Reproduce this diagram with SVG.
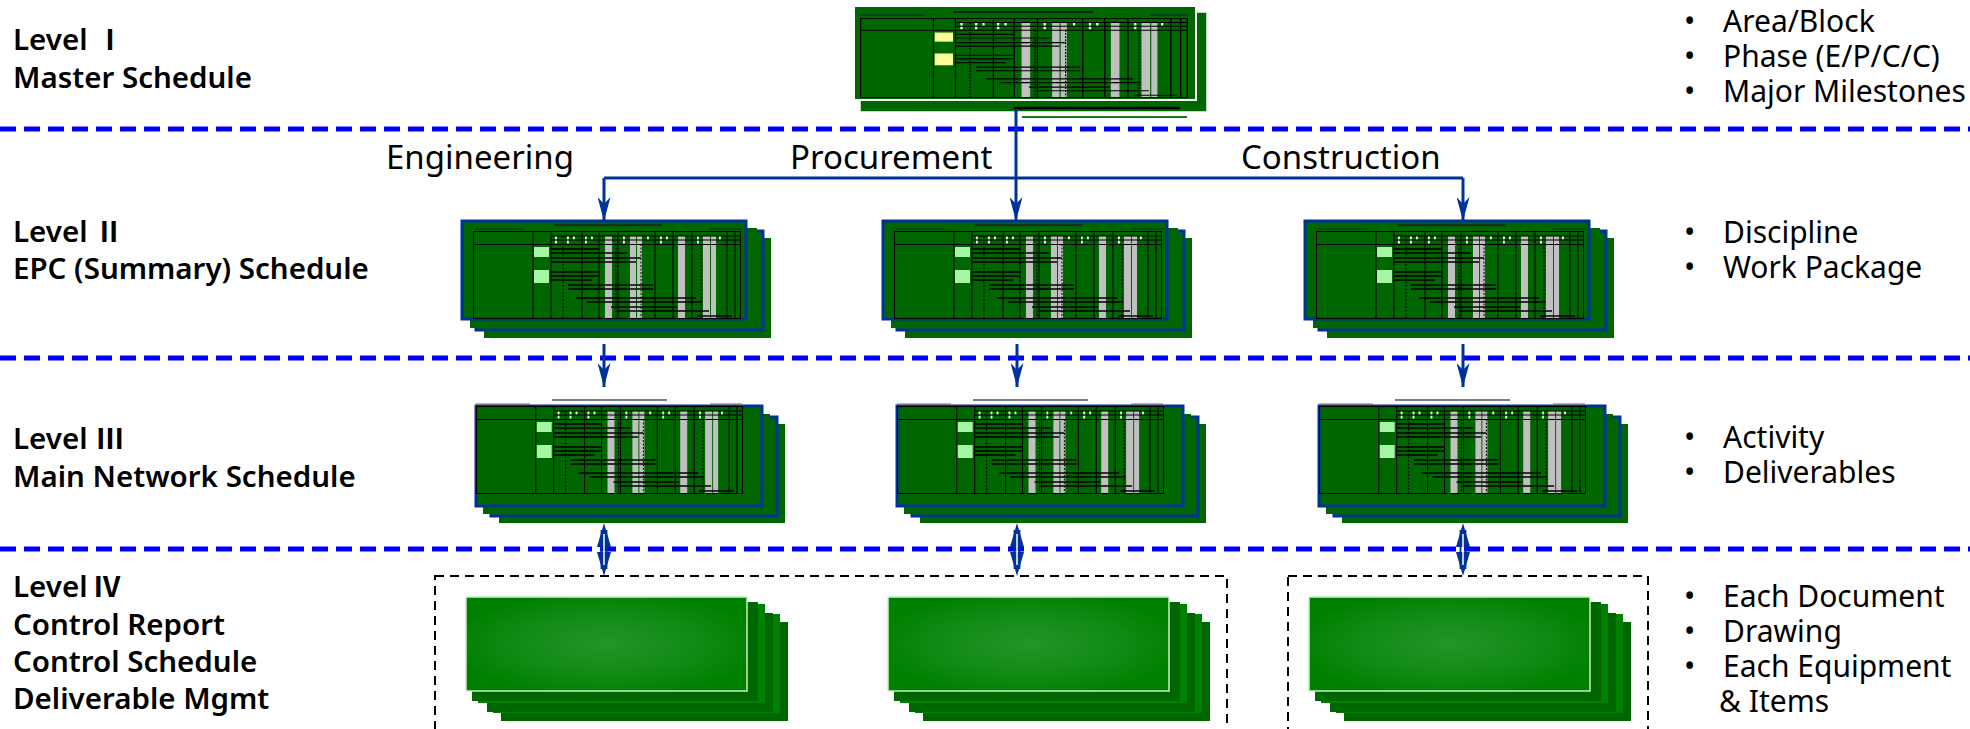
<svg xmlns="http://www.w3.org/2000/svg" xmlns:xlink="http://www.w3.org/1999/xlink" width="1970" height="729" viewBox="0 0 1970 729">
<style>
.lbl{font-family:"Noto Sans","Noto Sans CJK KR",sans-serif;font-weight:600;font-size:29.5px;fill:#000}
.num{font-size:28px}
.bul{font-family:"Noto Sans","Noto Sans CJK KR",sans-serif;font-size:30px;fill:#000}
.mid{font-family:"Noto Sans","Noto Sans CJK KR",sans-serif;font-size:33px;fill:#000}
.lvl{stroke:#0000ff;stroke-width:5;stroke-dasharray:16 8;fill:none}
.grp{stroke:#000;stroke-width:2;stroke-dasharray:9 6;fill:none}
.con{stroke:#003399;stroke-width:3;fill:none}
.sheet{fill:#006600}
.blue{stroke:#003399;stroke-width:3}
.card{fill:url(#cg);stroke:#c8f0c8;stroke-width:1.5}
</style>
<defs>
<marker id="arr" viewBox="0 0 24 13" refX="24" refY="6.5" markerWidth="24" markerHeight="13" markerUnits="userSpaceOnUse" orient="auto">
<path d="M24,6.5 L0,0 L7,6.5 L0,13 Z" fill="#003399"/>
</marker>
<radialGradient id="cg" cx="50%" cy="50%" r="55%">
<stop offset="0" stop-color="#22962a"/>
<stop offset="0.6" stop-color="#118a14"/>
<stop offset="1" stop-color="#008000"/>
</radialGradient>
<symbol id="tbl" viewBox="0 0 268 88" preserveAspectRatio="none">
<g fill="#c0c0c0">
<rect x="132" y="5" width="7" height="83"/><rect x="157" y="5" width="6" height="83"/><rect x="164" y="5" width="5" height="83"/>
<rect x="205" y="5" width="7" height="83"/><rect x="230" y="5" width="7" height="83"/><rect x="238" y="5" width="5" height="83"/>
</g>
<g fill="#fff">
<rect x="82" y="5" width="1.8" height="3.5"/><rect x="94" y="5" width="1.8" height="3.5"/><rect x="100" y="5" width="1.8" height="3.5"/>
<rect x="112" y="5" width="1.8" height="3.5"/><rect x="118" y="5" width="1.8" height="3.5"/><rect x="150" y="5" width="1.8" height="3.5"/>
<rect x="174" y="5" width="1.8" height="3.5"/><rect x="187" y="5" width="1.8" height="3.5"/><rect x="193" y="5" width="1.8" height="3.5"/>
<rect x="224" y="5" width="1.8" height="3.5"/><rect x="246" y="5" width="1.8" height="3.5"/>
<rect x="82" y="9.5" width="1.8" height="3"/><rect x="94" y="9.5" width="1.8" height="3"/><rect x="112" y="9.5" width="1.8" height="3"/>
<rect x="150" y="9.5" width="1.8" height="3"/><rect x="187" y="9.5" width="1.8" height="3"/><rect x="224" y="9.5" width="1.8" height="3"/>
</g>
<g stroke="#000" stroke-width="1" fill="none">
<rect x="0.5" y="0.5" width="267" height="87"/>
<path d="M0,13.5H268M78,5H268M78,9H268M60,0V88M78,0V88M109,0V88M126,0V88M145,0V88M182,0V88M200,0V88M219,0V88M254,0V88M262,0V88"/>
<path d="M90,5V88M143,13V88M168,13V88M228,13V88" stroke-dasharray="2 1.5"/>
</g>
<g stroke="#000" stroke-width="1.3">
<path d="M78,18H126M78,22H155M78,27H168M78,31H163M78,41H126M78,45H126M78,49H119M95,54H180M95,58H180M103,67H223M114,71H229M138,76H204M144,80H236M224,85H259"/>
</g>
</symbol>
<symbol id="cellG" viewBox="0 0 268 88" preserveAspectRatio="none">
<g fill="#a4f5a4"><rect x="61" y="16" width="15" height="10"/><rect x="61" y="39" width="15" height="13"/></g>
</symbol>
<symbol id="cellY" viewBox="0 0 268 88" preserveAspectRatio="none">
<g fill="#ffff99"><rect x="61" y="16" width="15" height="10"/><rect x="61" y="39" width="15" height="13"/></g>
</symbol>
<g id="stack2">
<rect class="sheet" x="22" y="17" width="287" height="100"/>
<rect class="sheet blue" x="14" y="10" width="287" height="99"/>
<rect class="sheet" x="8" y="7" width="287" height="100"/>
<rect class="sheet blue" x="0" y="0" width="284" height="98"/>
<path d="M92,4H200" stroke="#222" stroke-width="1.5"/>
<path d="M13,8H62M248,8H281" stroke="#123" stroke-width="1"/>
<use xlink:href="#tbl" x="11" y="10" width="268" height="88"/>
<use xlink:href="#cellG" x="11" y="10" width="268" height="88"/>
</g>
<g id="stack3">
<rect class="sheet" x="23" y="18" width="286" height="99"/>
<rect class="sheet blue" x="15" y="11" width="286" height="99"/>
<rect class="sheet" x="7" y="8" width="287" height="100"/>
<rect class="sheet blue" x="0" y="0" width="286" height="100"/>
<path d="M76,-6H191" stroke="#555" stroke-width="1.5"/>
<path d="M0,-2H54M234,-2H266" stroke="#666" stroke-width="1"/>
<use xlink:href="#tbl" x="0" y="0" width="267" height="88"/>
<use xlink:href="#cellG" x="0" y="0" width="267" height="88"/>
</g>
<g id="card">
<rect x="35" y="25" width="287" height="99" fill="#006600"/>
<rect x="27" y="17" width="287" height="99" fill="#008000"/>
<rect x="21" y="16" width="286" height="99" fill="#006600"/>
<rect x="12" y="7" width="287" height="99" fill="#008000"/>
<rect x="6" y="5" width="286" height="99" fill="#006600"/>
<rect class="card" x="0" y="0" width="281" height="94"/>
</g>
</defs>

<g id="level-lines">
<line class="lvl" x1="0" y1="129" x2="1970" y2="129"/>
<line class="lvl" x1="0" y1="358" x2="1970" y2="358"/>
<line class="lvl" x1="0" y1="549" x2="1970" y2="549"/>
</g>

<g id="level-labels">
<text class="lbl"><tspan x="13" y="50">Level</tspan><tspan class="num" x="110" y="50" text-anchor="middle">Ⅰ</tspan><tspan x="13" y="88">Master Schedule</tspan></text>
<text class="lbl"><tspan x="13" y="242">Level</tspan><tspan class="num" x="109" y="242" text-anchor="middle">Ⅱ</tspan><tspan x="13" y="279">EPC (Summary) Schedule</tspan></text>
<text class="lbl"><tspan x="13" y="449">Level</tspan><tspan class="num" x="110" y="449" text-anchor="middle">Ⅲ</tspan><tspan x="13" y="487">Main Network Schedule</tspan></text>
<text class="lbl"><tspan x="13" y="597">Level</tspan><tspan class="num" x="107" y="597" text-anchor="middle">Ⅳ</tspan><tspan x="13" y="635">Control Report</tspan><tspan x="13" y="672">Control Schedule</tspan><tspan x="13" y="709">Deliverable Mgmt</tspan></text>
</g>

<g id="bullets">
<text class="bul"><tspan x="1684" y="32">•</tspan><tspan x="1723" y="32">Area/Block</tspan><tspan x="1684" y="67">•</tspan><tspan x="1723" y="67">Phase (E/P/C/C)</tspan><tspan x="1684" y="102">•</tspan><tspan x="1723" y="102">Major Milestones</tspan></text>
<text class="bul"><tspan x="1684" y="243">•</tspan><tspan x="1723" y="243">Discipline</tspan><tspan x="1684" y="278">•</tspan><tspan x="1723" y="278">Work Package</tspan></text>
<text class="bul"><tspan x="1684" y="448">•</tspan><tspan x="1723" y="448">Activity</tspan><tspan x="1684" y="483">•</tspan><tspan x="1723" y="483">Deliverables</tspan></text>
<text class="bul"><tspan x="1684" y="607">•</tspan><tspan x="1723" y="607">Each Document</tspan><tspan x="1684" y="642">•</tspan><tspan x="1723" y="642">Drawing</tspan><tspan x="1684" y="677">•</tspan><tspan x="1723" y="677">Each Equipment</tspan><tspan x="1719" y="712">&amp; Items</tspan></text>
</g>

<g id="phase-labels">
<text class="mid" x="386" y="169">Engineering</text>
<text class="mid" x="790" y="169">Procurement</text>
<text class="mid" x="1241" y="169">Construction</text>
</g>

<g id="level1-master">
<rect class="sheet" x="860" y="12" width="347" height="100" stroke="#fff" stroke-width="1.5"/>
<rect class="sheet" x="854" y="6" width="342" height="94" stroke="#fff" stroke-width="2"/>
<path d="M953,12H1093" stroke="#111" stroke-width="1.5"/>
<path d="M860,15H925M1150,15H1188" stroke="#124" stroke-width="1"/>
<use xlink:href="#tbl" x="860" y="18" width="328" height="80"/>
<use xlink:href="#cellY" x="860" y="18" width="328" height="80"/>
<path d="M1014,108H1180" stroke="#000" stroke-width="2.5"/>
<path d="M1022,117H1187" stroke="#1a7a1a" stroke-width="2"/>
</g>

<g id="level2-engineering"><use xlink:href="#stack2" x="462" y="221"/></g>
<g id="level2-procurement"><use xlink:href="#stack2" x="883" y="221"/></g>
<g id="level2-construction"><use xlink:href="#stack2" x="1305" y="221"/></g>

<g id="level3-engineering"><use xlink:href="#stack3" x="476" y="406"/></g>
<g id="level3-procurement"><use xlink:href="#stack3" x="897" y="406"/></g>
<g id="level3-construction"><use xlink:href="#stack3" x="1319" y="406"/></g>

<g id="level4-group-ep"><rect class="grp" x="435" y="576" width="792" height="170"/></g>
<g id="level4-group-c"><rect class="grp" x="1288" y="576" width="360" height="170"/></g>
<g id="level4-engineering"><use xlink:href="#card" x="466" y="597"/></g>
<g id="level4-procurement"><use xlink:href="#card" x="888" y="597"/></g>
<g id="level4-construction"><use xlink:href="#card" x="1309" y="597"/></g>

<g id="connectors">
<path class="con" d="M1016,110V221" marker-end="url(#arr)"/>
<path class="con" d="M604,178H1463"/>
<path class="con" d="M604,178V221" marker-end="url(#arr)"/>
<path class="con" d="M1463,178V221" marker-end="url(#arr)"/>
<path class="con" d="M604,344V387" marker-end="url(#arr)"/>
<path class="con" d="M1017,344V387" marker-end="url(#arr)"/>
<path class="con" d="M1463,344V387" marker-end="url(#arr)"/>
<g fill="#003399">
<path d="M604,523L611,547L597,547Z M604,576L611,552L597,552Z"/>
<path d="M1017,523L1024,547L1010,547Z M1017,576L1024,552L1010,552Z"/>
<path d="M1463,523L1470,547L1456,547Z M1463,576L1470,552L1456,552Z"/>
</g>
<g stroke="#003399" stroke-width="1.8">
<path d="M601.5,530V569M606.5,530V569M1014.5,530V569M1019.5,530V569M1460.5,530V569M1465.5,530V569"/>
</g>
<g stroke="#ffffff" stroke-width="1.5">
<path d="M604,534V565M1017,534V565M1463,534V565"/>
</g>
</g>
</svg>
